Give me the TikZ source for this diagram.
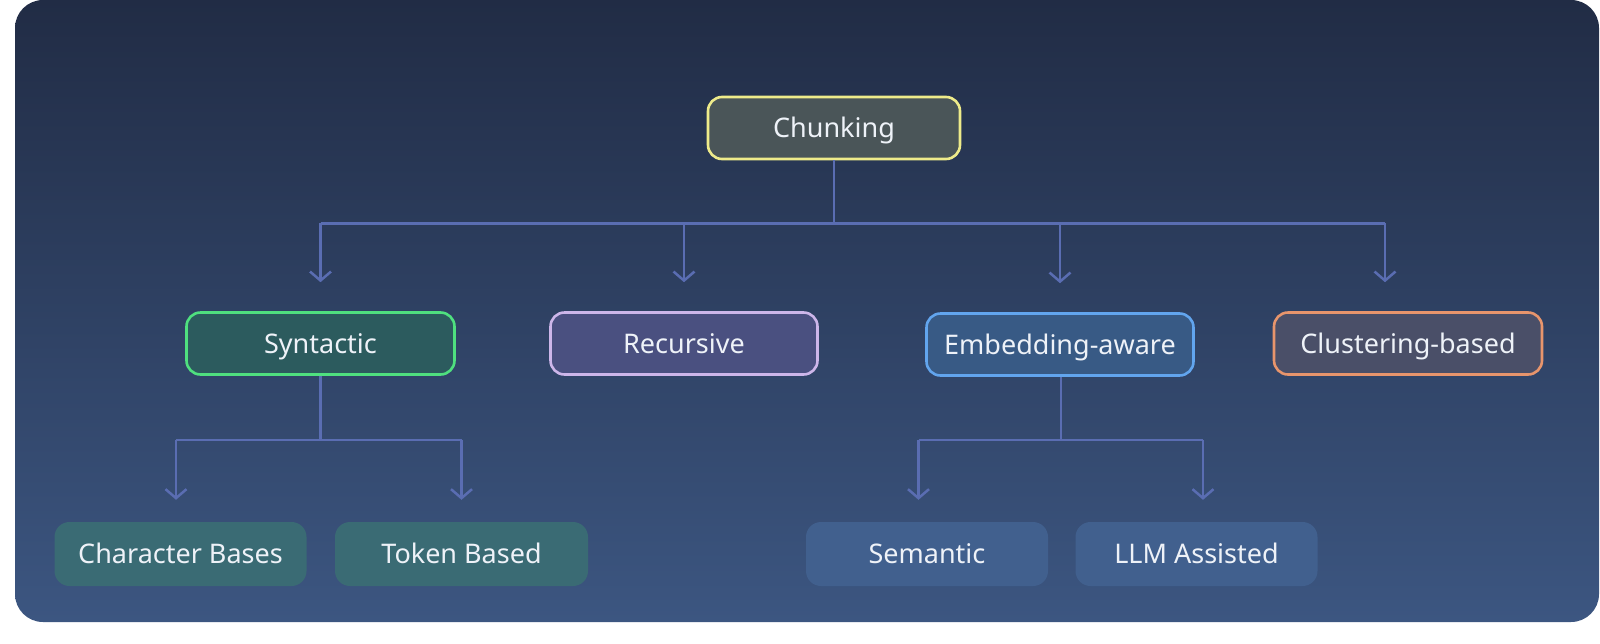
\documentclass[tikz,border=0pt]{standalone}
\usepackage{fontspec}
\setmainfont{Noto Sans}
\usetikzlibrary{arrows.meta,calc}
\definecolor{bgtop}{HTML}{212C45}
\definecolor{bgbot}{HTML}{3C5681}
\definecolor{linec}{HTML}{5A6DB2}
\definecolor{txt}{HTML}{EEF2F8}
\definecolor{chF}{HTML}{4A5558}\definecolor{chD}{HTML}{EEEB8A}
\definecolor{syF}{HTML}{2C5B5E}\definecolor{syD}{HTML}{4FE07F}
\definecolor{reF}{HTML}{4A5080}\definecolor{reD}{HTML}{CDB6EA}
\definecolor{emF}{HTML}{385A85}\definecolor{emD}{HTML}{62A5EE}
\definecolor{clF}{HTML}{4A4F68}\definecolor{clD}{HTML}{E8956C}
\definecolor{leafA}{HTML}{3A6B74}
\definecolor{leafB}{HTML}{41608E}
\begin{document}
\begin{tikzpicture}[x=1pt,y=-1pt,
  box/.style={rounded corners=14pt, line width=2.6pt, minimum height=62pt,
    text=txt, font=\fontsize{27}{32}\selectfont, inner sep=0pt,
    text height=24.5pt, text depth=5pt},
  leaf/.style={rounded corners=15pt, minimum height=64pt,
    text=txt, font=\fontsize{27}{32}\selectfont, inner sep=0pt,
    text height=24.5pt, text depth=5pt},
  conn/.style={draw=linec, line width=2.5pt},
  arr/.style={conn, -{Straight Barb[length=9pt,width=21pt,line width=2.5pt]}}
]
\useasboundingbox (0,0) rectangle (1600,643);
\fill[white] (0,0) rectangle (1600,643);
\shade[top color=bgtop, bottom color=bgbot, rounded corners=28pt] (15,0) rectangle (1599,622);

% nodes
\node[box, fill=chF, draw=chD, minimum width=252pt] (chunk) at (834,128) {Chunking};
\node[box, fill=syF, draw=syD, minimum width=268pt] (syn) at (320.5,343.5) {Syntactic};
\node[box, fill=reF, draw=reD, minimum width=267pt] (rec) at (684,343.5) {Recursive};
\node[box, fill=emF, draw=emD, minimum width=267pt] (emb) at (1060,344.5) {Embedding-aware};
\node[box, fill=clF, draw=clD, minimum width=268pt] (clu) at (1408,343.5) {Clustering-based};

\node[leaf, fill=leafA, minimum width=252pt] (chr) at (180.5,554) {Character Bases};
\node[leaf, fill=leafA, minimum width=253pt] (tok) at (461.5,554) {Token Based};
\node[leaf, fill=leafB, minimum width=242pt] (sem) at (927,554) {Semantic};
\node[leaf, fill=leafB, minimum width=242pt] (llm) at (1196.5,554) {LLM Assisted};

% level 1 connectors
\coordinate (b0) at ($(chunk.south)+(0,63)$);
\coordinate (bL) at (syn.north |- b0);
\coordinate (bR) at ($(clu.north |- b0)+(-23,0)$);
\draw[conn] (chunk.south) -- (b0);
\draw[conn] (bL) -- (bR);
\draw[arr] (bL) -- ($(syn.north)+(0,-29)$);
\draw[arr] (rec.north |- b0) -- ($(rec.north)+(0,-29)$);
\draw[arr] (emb.north |- b0) -- ($(emb.north)+(0,-29)$);
\draw[arr] (bR) -- ($(clu.north)+(-23,-29)$);

% level 2 connectors: syntactic
\coordinate (s0) at ($(syn.south)+(0,64)$);
\coordinate (sL) at ($(chr.north |- s0)+(-4.5,0)$);
\coordinate (sR) at (tok.north |- s0);
\draw[conn] (syn.south) -- (s0);
\draw[conn] (sL) -- (sR);
\draw[arr] (sL) -- ($(chr.north)+(-4.5,-22)$);
\draw[arr] (sR) -- ($(tok.north)+(0,-22)$);

% level 2 connectors: embedding
\coordinate (e0) at ($(emb.south)+(1,63)$);
\coordinate (eL) at ($(sem.north |- e0)+(-8.5,0)$);
\coordinate (eR) at ($(llm.north |- e0)+(6.5,0)$);
\draw[conn] ($(emb.south)+(1,0)$) -- (e0);
\draw[conn] (eL) -- (eR);
\draw[arr] (eL) -- ($(sem.north)+(-8.5,-22)$);
\draw[arr] (eR) -- ($(llm.north)+(6.5,-22)$);
\end{tikzpicture}
\end{document}
